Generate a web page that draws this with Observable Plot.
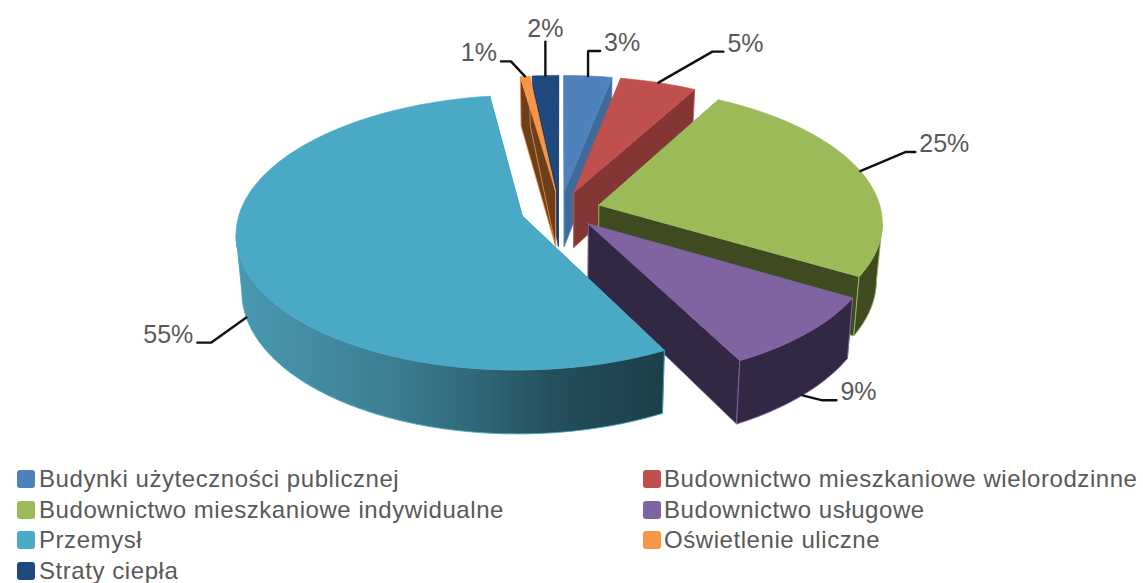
<!DOCTYPE html>
<html><head><meta charset="utf-8">
<script src="https://cdn.jsdelivr.net/npm/d3@7"></script>
<script src="https://cdn.jsdelivr.net/npm/@observablehq/plot@0.6"></script>
<style>
html,body{margin:0;padding:0;background:#fff;overflow:hidden}
#chart svg{display:block}
#legend{position:absolute;left:17px;top:464.2px;width:1126px;display:grid;grid-template-columns:626px 500px;grid-auto-rows:30.5px;
 font-family:"Liberation Sans",Arial,sans-serif;font-size:24px;line-height:24px;color:#595959;letter-spacing:.56px}
#legend div{display:flex;align-items:center;white-space:nowrap}
#legend i{display:inline-block;width:18px;height:18px;border-radius:3px;margin-right:4px}
#legend div:nth-child(even) i{margin-right:3px}
</style></head><body>
<div id="chart"></div><div id="legend"></div>
<script>
// ---- data
const categories = ["Budynki użyteczności publicznej","Budownictwo mieszkaniowe wielorodzinne","Budownictwo mieszkaniowe indywidualne","Budownictwo usługowe","Przemysł","Oświetlenie uliczne","Straty ciepła"];
const shares = [3.1, 4.95, 25.4, 8.9, 55.35, 0.6, 1.7];
const labels = ["3%","5%","25%","9%","55%","1%","2%"];
const topColors = ["#4f81bd","#c0504d","#9bbb59","#8064a2","#4aa9c4","#f79646","#1f497d"];
const wallColors = ["#3f6a9a","#843635","#404a20","#322843","url(#wallGrad)","#6b3f1a","#1a3d68"];

// ---- layout of the perspective pie
const W = 1143, H = 460;
const cx = 560, cy = 209.5, Rx = 282, Ry = 134, persp = 0.12, explode = 0.142, depth = 56;
const drawOrder = [6, 5, 0, 1, 2, 3, 4];
// leader line: offset of elbow from rim anchor, then length of the horizontal run; share of wall depth at anchor
const leaderElbow = [[0,-25],[54,-31],[45,-19],[20,5],[-35,25],[-14,-15],[0,-34]];
const leaderRun = [12,11,10,14,-14,-10,0];
const anchorDepth = [0,0,0,1,1,0,0];
const silhouette = 0.14; // the side walls end where the rim is widest on screen

const total = d3.sum(shares);
const cum = d3.cumsum(shares);
const ang = f => f / total * 2 * Math.PI;
const slices = shares.map((v, i) => {
  const a0 = ang(i ? cum[i - 1] : 0), a1 = ang(cum[i]), m = (a0 + a1) / 2;
  return {i, a0, a1, m, ox: explode * Math.sin(m), oy: explode * Math.cos(m)};
});
function project(X, Y, d = 0) {
  const w = 1 + persp * Y;
  let x = cx + Rx * X / w, y = cy - Ry * Y / w;
  if (d) { x = cx + (x - cx) * (1 - 0.018 * d); y += d * depth / w; }
  return [x, y];
}
const rim = (s, a, d = 0) => project(s.ox + Math.sin(a), s.oy + Math.cos(a), d);
const apex = (s, d = 0) => project(s.ox, s.oy, d);
const arc = (s, a0, a1, d = 0) => { const n = Math.max(2, Math.ceil((a1 - a0) * 60)); return d3.range(n + 1).map(j => rim(s, a0 + (a1 - a0) * j / n, d)); };
const closed = p => [...p, p[0]];
const face = (pts, fill, stroke, strokeWidth) => Plot.line(closed(pts), {x: d => d[0], y: d => d[1], fill, stroke, strokeWidth});

const marks = [() => {
  const defs = d3.create("svg:defs");
  const g = defs.append("linearGradient").attr("id", "wallGrad");
  [[0,"#4999b1"],[0.37,"#3c7d92"],[0.55,"#30697a"],[0.75,"#234e5b"],[1,"#1c3f49"]].forEach(([o, c]) => g.append("stop").attr("offset", o).attr("stop-color", c));
  return defs.node();
}];
for (const i of drawOrder) {
  const s = slices[i], top = topColors[i], wall = wallColors[i];
  // cut faces
  for (const a of [s.a0, s.a1])
    marks.push(face([apex(s), rim(s, a), rim(s, a, 1), apex(s, 1)], wall === "url(#wallGrad)" ? "#1c3f49" : wall, top, 0.8));
  // outer wall, between the two widest points of the rim
  const f0 = Math.max(s.a0, Math.PI / 2 + silhouette), f1 = Math.min(s.a1, 1.5 * Math.PI - silhouette);
  if (f1 > f0) marks.push(face([...arc(s, f0, f1), ...arc(s, f0, f1, 1).reverse()], wall, top, 0.9));
  // top surface
  marks.push(face([apex(s), ...arc(s, s.a0, s.a1)], top, top, 0.6));
}
// leader lines and percent labels
slices.forEach(s => {
  const i = s.i, A = rim(s, s.m, anchorDepth[i]);
  const E = [A[0] + leaderElbow[i][0], A[1] + leaderElbow[i][1]];
  const T = [E[0] + leaderRun[i], E[1]];
  marks.push(Plot.line([A, E, T], {x: d => d[0], y: d => d[1], stroke: "#111", strokeWidth: 2.4, strokeLinejoin: "miter"}));
  const run = leaderRun[i];
  marks.push(Plot.text([labels[i]], {
    x: () => T[0] + (run > 0 ? 4 : run < 0 ? -4 : 0),
    y: () => run === 0 ? T[1] - 13 : T[1] - 8,
    text: d => d,
    textAnchor: run > 0 ? "start" : run < 0 ? "end" : "middle",
    lineAnchor: "middle", fontSize: 25, fill: "#595959", fontFamily: "Liberation Sans, Arial, sans-serif"
  }));
});

const plot = Plot.plot({
  width: W, height: H, margin: 0,
  x: {domain: [0, W], axis: null},
  y: {domain: [H, 0], axis: null},
  marks
});
document.getElementById("chart").append(plot);
const leg = d3.select("#legend");
categories.forEach((c, i) => {
  const r = leg.append("div");
  r.append("i").style("background", topColors[i]);
  r.append("span").text(c);
});
</script>
</body></html>
